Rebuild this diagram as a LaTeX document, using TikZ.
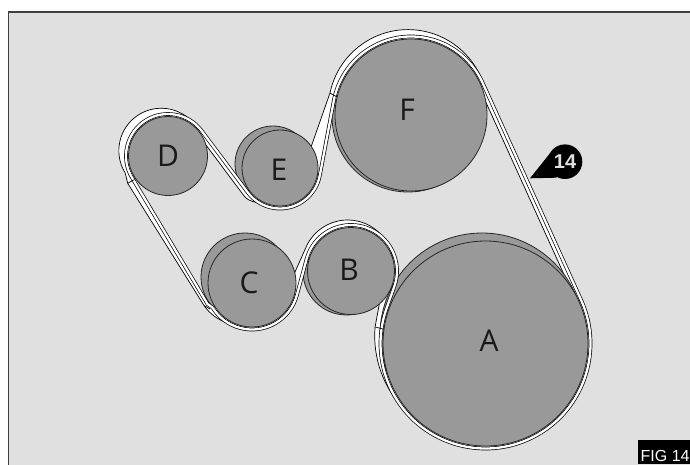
\documentclass[tikz,border=0pt]{standalone}
\usepackage{fontspec}
\newfontfamily\labelfont{Open Sans}
\newfontfamily\arialfont{Liberation Sans}
\usetikzlibrary{calc}
\definecolor{panel}{HTML}{E0E0E0}
\definecolor{pulley}{HTML}{999999}
\tikzstyle{disc} = [draw=black!85, fill=pulley, line width=0.8pt, circle, inner sep=0pt]
\tikzstyle{band} = [draw=black, line width=0.7pt, double=white, double distance=2.3pt, line join=round]
\tikzstyle{strip} = [draw=black, fill=white, line width=0.7pt, line join=round]
\tikzstyle{tick} = [draw=black, line width=0.7pt]
\tikzstyle{letter} = [font=\labelfont\fontsize{30}{30}\selectfont, text=black!90, inner sep=0pt]
\begin{document}
\begin{tikzpicture}[x=1pt, y=1pt]
    \useasboundingbox (0,0) rectangle (690,464);
    \draw[fill=panel, draw=black!75, line width=1.4pt] (8.5,-5) rectangle (700,452);

    \coordinate (cA) at (485.5,120.5);
    \coordinate (cB) at (351,193);
    \coordinate (cC) at (252,181);
    \coordinate (cD) at (168,308);
    \coordinate (cE) at (280,296);
    \coordinate (cF) at (411,349);

    \coordinate (dIn) at ($(cD)+(211.8:42)$);
    \coordinate (dOut) at ($(cD)+(36.8:42)$);
    \coordinate (eIn) at ($(cE)+(-143.2:40.5)$);
    \coordinate (eOut) at ($(cE)+(-10.6:40.5)$);
    \coordinate (fIn) at ($(cF)+(169.4:78.5)$);
    \coordinate (fOut) at ($(cF)+(24.4:78.5)$);
    \coordinate (aIn) at ($(cA)+(24.4:105)$);
    \coordinate (aOut) at ($(cA)+(160.5:105)$);
    \coordinate (bIn) at ($(cB)+(-19.5:46)$);
    \coordinate (bOut) at ($(cB)+(165:46)$);
    \coordinate (cIn) at ($(cC)+(-15:46.5)$);
    \coordinate (cOut) at ($(cC)+(211.8:46.5)$);
    \coordinate (cBend) at (207.5,160);

    \coordinate (tickF) at ($(408,354.7)+(168.2:79.7)$);
    \coordinate (tickA) at ($(480.7,128)+(175.1:106)$);
    \coordinate (tickD) at (127.7,280.7);
    \coordinate (tickC) at (204,158.5);

    \node[disc, minimum size=87pt] (backB) at (346.5,192.5) {};
    \node[disc, minimum size=88pt] (backC) at (245,187) {};
    \node[disc, minimum size=76pt] (backE) at (273,300) {};
    \node[disc, minimum size=152pt] (backF) at (408,348) {};

    \draw[strip] (310,314) -- (tickF) arc[start angle=168.2, end angle=17.7, radius=79.7pt]
       -- (cF) -- (fIn) -- (eOut) -- (cE) -- cycle;
    \draw[strip] ($(480.7,128)+(224.4:106)$) arc[start angle=224.4, end angle=175.1, radius=106pt]
       -- (381,169) -- (cB) -- (bIn) -- (aOut) -- (cA) -- cycle;
    \draw[strip] (393,202) arc[start angle=4.4, end angle=153.2, radius=45.5pt]
       -- (291.4,183.9) -- (cC) -- (cIn) -- (bOut) -- (cB) -- cycle;
    \draw[strip] (226.7,141) .. controls (217,145) and (210,150) .. (tickC) -- (tickD)
       -- (125.2,291) arc[start angle=211.8, end angle=52.6, radius=42.4pt]
       -- (cD) -- (dIn) -- (cBend) -- (cOut) -- (cC) -- cycle;
    \draw[strip] (dOut) -- ($(dOut)+(-143.2:5)$) -- ($(eIn)+(-143.2:5)$)
       .. controls (246,265) and (250,263) .. (256,261.6) -- (cE) -- (eIn) -- cycle;
    \draw[strip] (fOut) -- ($(fOut)+(-155.6:5)$) -- ($(aIn)+(-155.6:5)$) -- (aIn) -- cycle;

    \node[disc, minimum size=204pt] (backA) at (482,129) {};

    \draw[band] (dIn) arc[start angle=211.8, end angle=36.8, radius=42pt]
       -- (eIn) arc[start angle=-143.2, end angle=-10.6, radius=40.5pt]
       -- (fIn) arc[start angle=169.4, end angle=24.4, radius=78.5pt]
       -- (aIn) arc[start angle=24.4, end angle=-199.5, radius=105pt]
       -- (bIn) arc[start angle=-19.5, end angle=165, radius=46pt]
       -- (cIn) arc[start angle=-15, end angle=-148.2, radius=46.5pt]
       -- (cBend) -- cycle;
    \draw[tick] (tickF) -- (337,367);
    \draw[tick] (tickA) -- (384,134.7);
    \draw[tick] (tickD) -- (134.5,284.5);
    \draw[tick] (tickC) -- (210,155);

    \node[disc, minimum size=205pt] (A) at (cA) {};
    \node[disc, minimum size=87pt] (B) at (cB) {};
    \node[disc, minimum size=88pt] (C) at (cC) {};
    \node[disc, minimum size=79pt] (D) at (cD) {};
    \node[disc, minimum size=76pt] (E) at (cE) {};
    \node[disc, minimum size=152pt] (F) at (cF) {};

    \node[letter] (labelA) at (489,123) {A};
    \node[letter] (labelB) at (349,194) {B};
    \node[letter] (labelC) at (249,181) {C};
    \node[letter] (labelD) at (168,308) {D};
    \node[letter] (labelE) at (279,294) {E};
    \node[letter] (labelF) at (407,354) {F};

    \coordinate (tip) at (530,285.7);
    \fill[black] (tip) -- (550,310.7) -- (556.7,286.3) -- cycle;
    \node[circle, fill=black, minimum size=34.6pt, inner sep=0pt, text=panel,
       font=\arialfont\bfseries\fontsize{20}{20}\selectfont] (badge) at (565,302.3) {14};

    \node[fill=black, anchor=south west, minimum width=60pt, minimum height=24pt, inner sep=0pt] (figbox) at (637.3,0) {};
    \node[anchor=base west, inner sep=0pt, text=white,
       font=\arialfont\fontsize{16}{16}\selectfont] (figtext) at (640.5,3) {FIG 14};
\end{tikzpicture}
\end{document}
